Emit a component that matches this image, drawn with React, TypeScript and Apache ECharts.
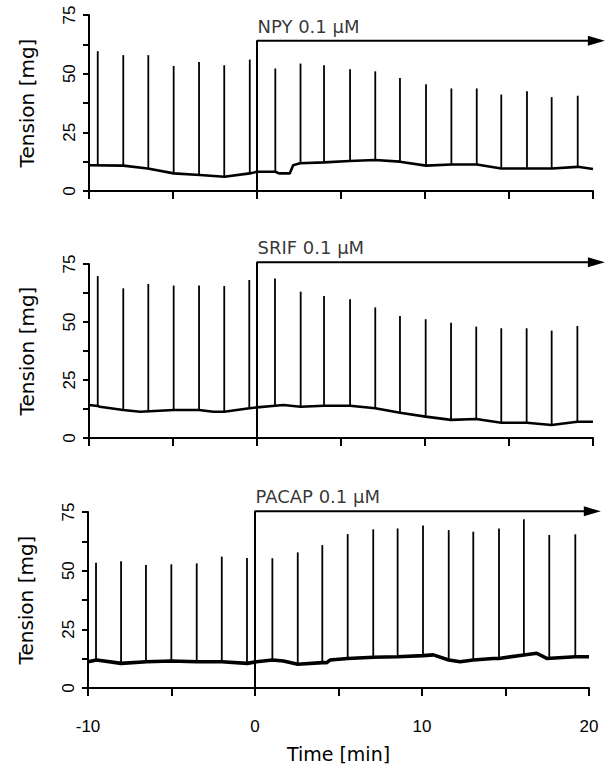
import React, { useEffect, useRef } from "react";
import * as echarts from "echarts";

// ---- Data ----
// Panel 1: NPY 0.1 µM
const npyLabel = "NPY 0.1 µM";
const npyArrowLevel = 64;
const npySpikeTimes = [-9.48, -7.96, -6.47, -4.96, -3.45, -1.95, -0.43, 1.09, 2.59, 3.99, 5.54, 7.04, 8.51, 10.06, 11.57, 13.08, 14.54, 16.07, 17.54, 19.09];
const npySpikeBases = [11, 10.8, 9.6, 7.5, 6.8, 6.1, 7.5, 8.2, 11.8, 12.2, 12.8, 13.2, 12.5, 10.8, 11.3, 11.3, 9.6, 9.6, 9.6, 10.3];
const npySpikePeaks = [59.6, 57.9, 57.9, 53.3, 55, 53.6, 56, 52.2, 54.3, 53.6, 51.9, 51, 48.2, 45.5, 43.7, 43.7, 41.1, 42.5, 40, 40.6];
const npyBaseTimes = [-10, -7.96, -6.5, -4.96, -3.4, -1.95, -0.43, 0, 1.1, 1.3, 1.95, 2.15, 2.56, 4, 5.5, 7.04, 8.5, 10.06, 11.57, 13.08, 14.54, 16.07, 17.54, 19.09, 20];
const npyBaseValues = [11, 10.8, 9.6, 7.5, 6.8, 6.1, 7.5, 8.2, 8.2, 7.5, 7.5, 11, 11.8, 12.2, 12.8, 13.2, 12.5, 10.8, 11.3, 11.3, 9.6, 9.6, 9.6, 10.3, 9.4];

// Panel 2: SRIF 0.1 µM
const srifLabel = "SRIF 0.1 µM";
const srifArrowLevel = 75.8;
const srifSpikeTimes = [-9.48, -7.96, -6.47, -4.96, -3.45, -1.95, -0.46, 1.07, 2.6, 3.99, 5.54, 7.04, 8.51, 10.04, 11.55, 13.05, 14.54, 16.05, 17.54, 19.07];
const srifSpikeBases = [13.8, 12.1, 11.3, 12.1, 12.1, 11.3, 12.8, 13.9, 13.5, 13.9, 13.9, 12.8, 10.9, 9.2, 7.8, 8.2, 6.6, 6.6, 5.6, 7.0];
const srifSpikePeaks = [69.8, 64.5, 66.4, 65.7, 65.7, 65.5, 68.1, 68.8, 63.1, 61.2, 59.8, 56.3, 52.6, 51.2, 49.7, 48, 47.3, 47.3, 46.3, 48.3];
const srifBaseTimes = [-10, -9.48, -9.35, -7.96, -6.96, -4.96, -3.45, -2.6, -1.95, -0.46, 0, 1.07, 1.57, 2.6, 3.99, 5.54, 7.04, 8.51, 10.04, 11.55, 13.05, 14.54, 16.05, 17.54, 19.07, 20];
const srifBaseValues = [14.2, 13.8, 13.5, 12.1, 11.3, 12.1, 12.1, 11.3, 11.3, 12.8, 13.2, 13.9, 14.2, 13.5, 13.9, 13.9, 12.8, 10.9, 9.2, 7.8, 8.2, 6.6, 6.6, 5.6, 7.0, 7.0];

// Panel 3: PACAP 0.1 µM
const pacapLabel = "PACAP 0.1 µM";
const pacapArrowLevel = 75.3;
const pacapSpikeTimes = [-9.52, -8.02, -6.53, -5.01, -3.49, -1.99, -0.48, 1.04, 2.56, 4.03, 5.55, 7.08, 8.54, 10.06, 11.6, 13.07, 14.61, 16.1, 17.62, 19.18];
const pacapSpikeBases = [11.9, 10.5, 11.2, 11.5, 11.2, 11.2, 10.5, 11.9, 10.1, 10.8, 12.6, 13.1, 13.3, 13.8, 11.9, 11.9, 12.6, 14.1, 12.6, 13.3];
const pacapSpikePeaks = [53.4, 54, 52.4, 52.7, 53.1, 56, 55.4, 55.3, 57.8, 60.9, 65.6, 67.6, 68, 69.2, 67.3, 66.6, 68, 71.9, 65.2, 65.5];
const pacapBaseTimes = [-10, -9.48, -8.02, -6.49, -5.01, -3.49, -1.99, -0.48, 0.1, 1.04, 1.7, 2.56, 4.03, 4.3, 4.49, 5.55, 7.08, 8.54, 10.06, 10.68, 11.6, 12.28, 13.07, 14.27, 14.61, 16.1, 16.87, 17.47, 19.18, 20];
const pacapBaseValues = [11.2, 11.9, 10.5, 11.2, 11.5, 11.2, 11.2, 10.5, 11.2, 11.9, 11.5, 10.1, 10.8, 10.8, 11.9, 12.6, 13.1, 13.3, 13.8, 14.1, 11.9, 11.2, 11.9, 12.6, 12.6, 14.1, 14.8, 12.6, 13.3, 13.3];

// Axes
const xMin = -10;
const xMax = 20;
const xInterval = 5;
const xLabelStep = 10;
const yMin = 0;
const yMax = 75;
const yInterval = 12.5;
const yTickLabels = [0, 25, 50, 75];
const arrowEnd = 20.2;
const yAxisName = "Tension [mg]";
const xAxisName = "Time [min]";

const panels = [
  { label: npyLabel, arrow: npyArrowLevel, st: npySpikeTimes, sb: npySpikeBases, sp: npySpikePeaks, bt: npyBaseTimes, bv: npyBaseValues, baseWidth: 2.6 },
  { label: srifLabel, arrow: srifArrowLevel, st: srifSpikeTimes, sb: srifSpikeBases, sp: srifSpikePeaks, bt: srifBaseTimes, bv: srifBaseValues, baseWidth: 2.6 },
  { label: pacapLabel, arrow: pacapArrowLevel, st: pacapSpikeTimes, sb: pacapSpikeBases, sp: pacapSpikePeaks, bt: pacapBaseTimes, bv: pacapBaseValues, baseWidth: 3.6 },
];

const grids = [
  { left: 89, top: 15, width: 504, height: 176 },
  { left: 89, top: 264, width: 504, height: 174 },
  { left: 88, top: 512, width: 501, height: 176 },
];

const TICK_FONT = "'Liberation Sans', Arial, sans-serif";
const NAME_FONT = "'DejaVu Sans', sans-serif";

export default function App() {
  const ref = useRef<HTMLDivElement>(null);
  useEffect(() => {
    if (!ref.current) return;
    const chart = echarts.init(ref.current, null, { renderer: "svg" });
    const xAxes: any[] = [];
    const yAxes: any[] = [];
    const series: any[] = [];
    panels.forEach((p, i) => {
      const last = i === panels.length - 1;
      xAxes.push({
        type: "value",
        gridIndex: i,
        min: xMin,
        max: xMax,
        interval: xInterval,
        axisLine: { show: true, onZero: false, lineStyle: { color: "#000", width: 2 } },
        axisTick: { show: true, length: 8, lineStyle: { color: "#000", width: 2 } },
        splitLine: { show: false },
        axisLabel: {
          show: last,
          color: "#000",
          fontFamily: TICK_FONT,
          fontSize: 17,
          margin: 30,
          formatter: (v: number) => (v % xLabelStep === 0 ? String(v) : ""),
        },
        name: last ? xAxisName : "",
        nameLocation: "middle",
        nameGap: 56,
        nameTextStyle: { color: "#000", fontFamily: NAME_FONT, fontSize: 19 },
      });
      yAxes.push({
        type: "value",
        gridIndex: i,
        min: yMin,
        max: yMax,
        interval: yInterval,
        axisLine: { show: true, onZero: false, lineStyle: { color: "#000", width: 2 } },
        axisTick: { show: true, length: 6, lineStyle: { color: "#000", width: 2 } },
        splitLine: { show: false },
        axisLabel: { show: false },
        name: yAxisName,
        nameLocation: "middle",
        nameGap: 52,
        nameTextStyle: { color: "#000", fontFamily: NAME_FONT, fontSize: 20 },
      });
      // baseline trace
      series.push({
        type: "line",
        xAxisIndex: i,
        yAxisIndex: i,
        data: p.bt.map((t, k) => [t, p.bv[k]]),
        symbol: "none",
        lineStyle: { color: "#000", width: p.baseWidth },
        z: 3,
      });
      // contraction spikes
      series.push({
        type: "custom",
        xAxisIndex: i,
        yAxisIndex: i,
        data: p.st.map((t, k) => [t, p.sb[k], p.sp[k]]),
        encode: { x: 0, y: [1, 2] },
        renderItem: (params: any, api: any) => {
          const t = api.value(0);
          const a = api.coord([t, api.value(1)]);
          const b = api.coord([t, api.value(2)]);
          return {
            type: "line",
            shape: { x1: a[0], y1: a[1], x2: b[0], y2: b[1] },
            style: { stroke: "#000", lineWidth: 1.8 },
          };
        },
        z: 4,
      });
      // application arrow
      series.push({
        type: "line",
        xAxisIndex: i,
        yAxisIndex: i,
        clip: false,
        symbol: "none",
        lineStyle: { color: "#000", width: 2 },
        data: [
          { value: [0, 0] },
          { value: [0, p.arrow] },
          { value: [arrowEnd, p.arrow], symbol: "triangle", symbolSize: [10, 17], symbolRotate: -90, itemStyle: { color: "#000" } },
        ],
        z: 5,
      });
      // label
      series.push({
        type: "scatter",
        xAxisIndex: i,
        yAxisIndex: i,
        clip: false,
        symbolSize: 1,
        itemStyle: { color: "rgba(0,0,0,0)" },
        data: [[0, p.arrow]],
        label: {
          show: true,
          formatter: p.label,
          position: [1, -14],
          align: "left",
          verticalAlign: "middle",
          color: "#000",
          fontFamily: NAME_FONT,
          fontSize: 18,
        },
        z: 6,
      });
    });
    chart.setOption({
      animation: false,
      backgroundColor: "#fff",
      grid: grids,
      xAxis: xAxes,
      yAxis: yAxes,
      series,
    });
    // rotated y tick labels, placed through the axis scale
    const labels: any[] = [];
    panels.forEach((_, i) => {
      yTickLabels.forEach((v) => {
        const pt = chart.convertToPixel({ gridIndex: i }, [xMin, v]) as number[];
        labels.push({
          type: "text",
          x: pt[0] - 20,
          y: pt[1],
          rotation: Math.PI / 2,
          style: {
            text: String(v),
            align: "center",
            verticalAlign: "middle",
            fill: "#000",
            font: `17px ${TICK_FONT}`,
          },
          silent: true,
        });
      });
    });
    chart.setOption({ graphic: labels });
    return () => chart.dispose();
  }, []);
  return <div ref={ref} style={{ position: "absolute", left: 0, top: 0, width: 613, height: 766 }} />;
}
